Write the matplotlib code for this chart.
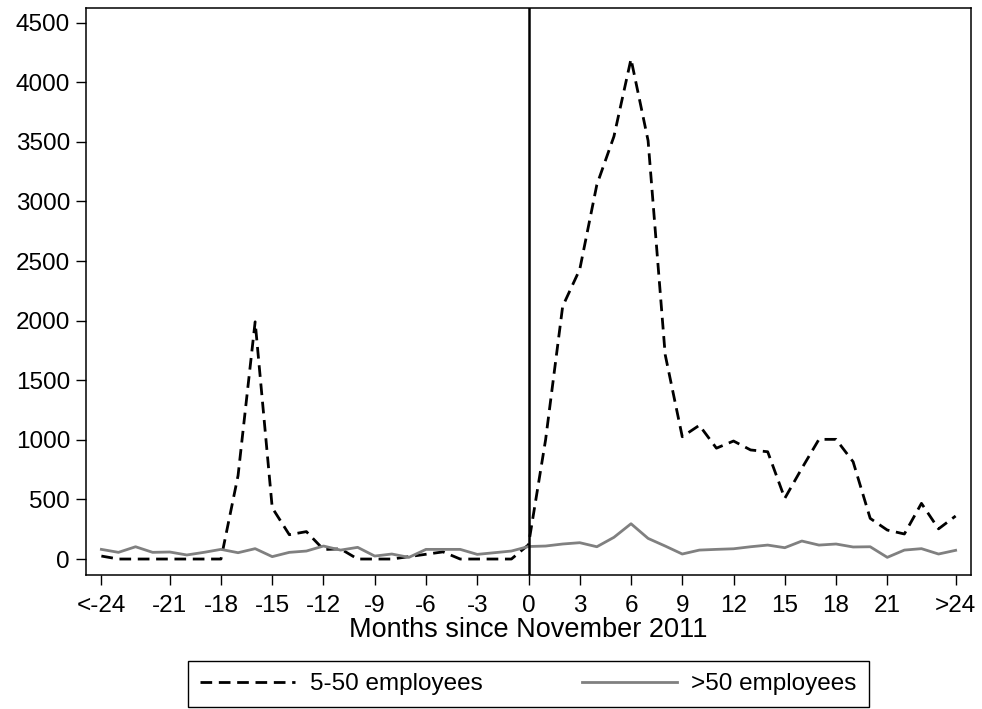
import matplotlib
matplotlib.use("Agg")
import matplotlib.pyplot as plt

months = list(range(-25, 26))
small_firms = [25, 0, 0, 0, 0, 0, 0, 0, 700, 1990, 430, 204, 230, 80, 85, 0, 0, 0, 20, 40, 60, 0, 0, 0, 0,
               120, 1000, 2120, 2430, 3140, 3545, 4195, 3510, 1715, 1026, 1122, 930, 990, 915, 900, 509,
               761, 1004, 1004, 816, 341, 243, 210, 467, 253, 361]
large_firms = [81, 56, 103, 56, 59, 34, 56, 81, 53, 87, 20, 56, 67, 109, 75, 98, 25, 42, 14, 81, 81, 81, 39, 53, 67,
               105, 109, 126, 137, 103, 182, 296, 173, 109, 42, 75, 81, 86, 103, 117, 95,
               151, 117, 126, 101, 103, 14, 75, 87, 42, 73]
xtick_pos = [-25, -21, -18, -15, -12, -9, -6, -3, 0, 3, 6, 9, 12, 15, 18, 21, 25]
xtick_labels = ['<-24', '-21', '-18', '-15', '-12', '-9', '-6', '-3', '0', '3', '6', '9', '12', '15', '18', '21', '>24']
ytick_pos = [0, 500, 1000, 1500, 2000, 2500, 3000, 3500, 4000, 4500]
labels = ['5-50 employees', '>50 employees']

plt.rcParams['font.family'] = ['Liberation Sans', 'DejaVu Sans']
FS = 17.5

fig = plt.figure(figsize=(9.82, 7.09), dpi=100)
ax = fig.add_axes([86/982, 1-575/709, (971-86)/982, (575-7.5)/709])

ax.plot(months, small_firms, color='black', lw=2.0, linestyle=(0, (4.2, 2.4)), label=labels[0])
ax.plot(months, large_firms, color='#808080', lw=2.0, label=labels[1])
ax.axvline(0, color='black', lw=1.8)

ax.set_xlim(-25.9, 25.9)
ax.set_ylim(-134, 4627)
ax.set_xticks(xtick_pos)
ax.set_xticklabels(xtick_labels)
ax.set_yticks(ytick_pos)
ax.tick_params(axis='both', direction='out', length=7.5, width=1.0, labelsize=FS, colors='black')
ax.tick_params(axis='x', pad=7)
ax.tick_params(axis='y', pad=4)
for s in ax.spines.values():
    s.set_linewidth(1.1)
ax.set_xlabel('Months since November 2011', fontsize=19.5, labelpad=0)

leg = fig.legend(loc='upper center', bbox_to_anchor=((86+971)/2/982, 1-661/709), ncol=2,
                 fontsize=FS, frameon=True, fancybox=False, edgecolor='black', framealpha=1,
                 handlelength=3.9, handletextpad=0.6, columnspacing=4.1, borderpad=0.5,
                 borderaxespad=0)
leg.get_frame().set_linewidth(1.0)

fig.savefig('out.png', dpi=100)
